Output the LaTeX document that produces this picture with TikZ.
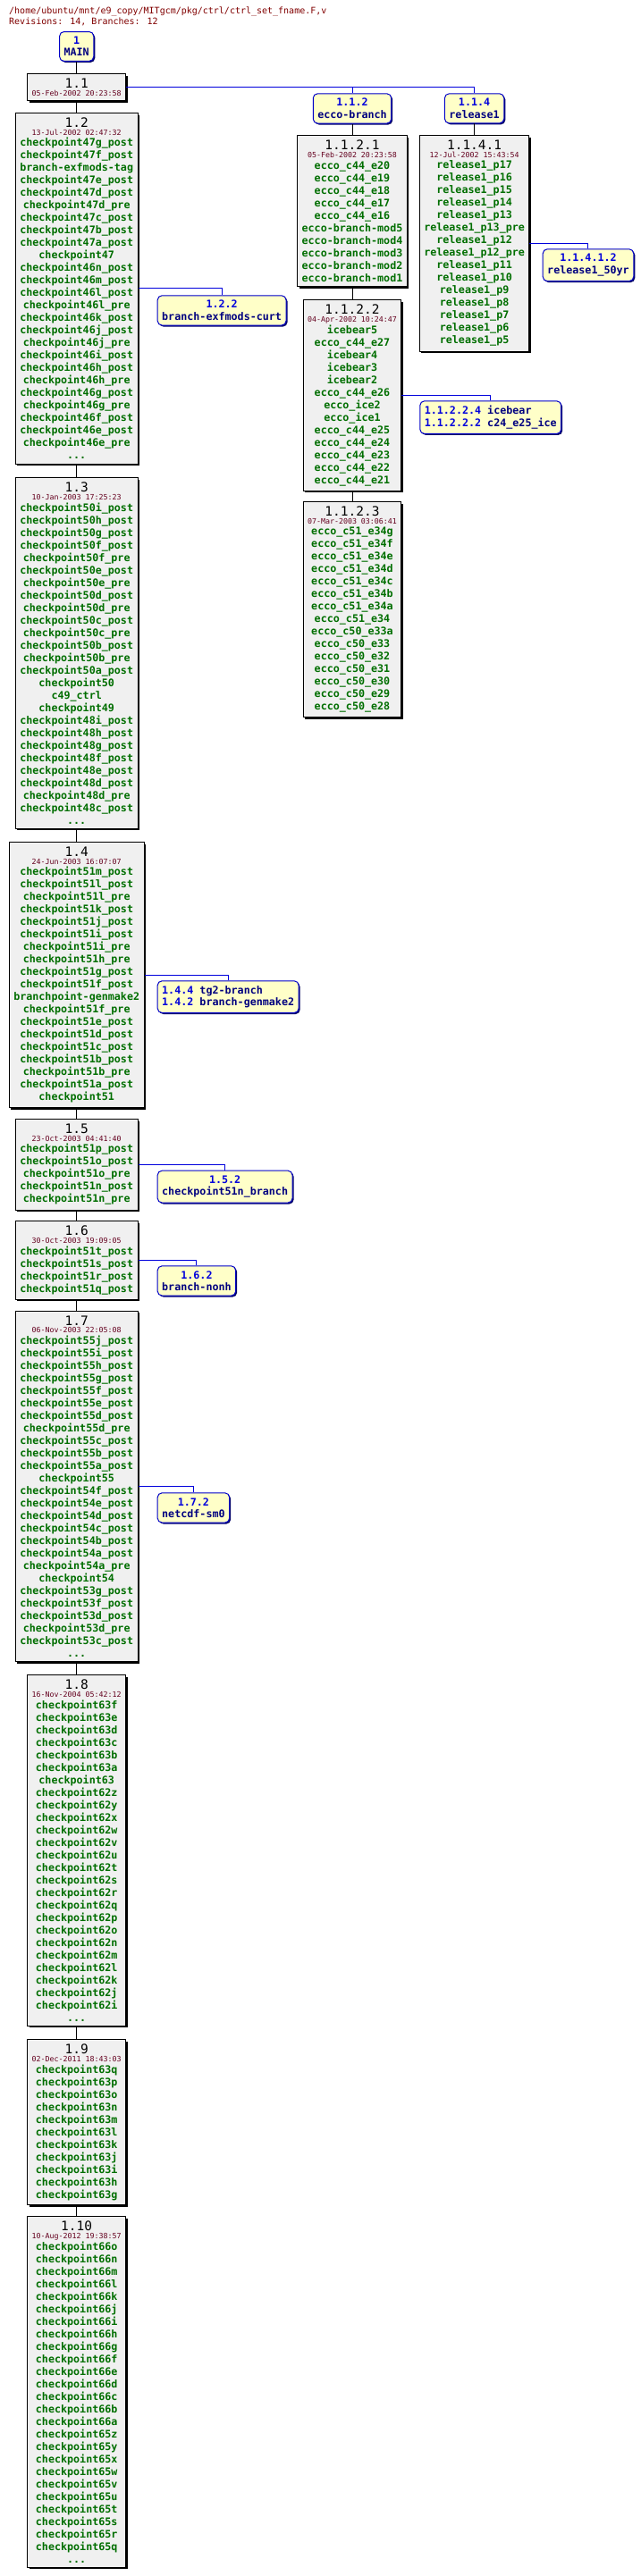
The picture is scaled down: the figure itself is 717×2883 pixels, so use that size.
\documentclass[tikz,border=0pt]{standalone}
\usepackage{fontspec}
\newfontfamily\cvsmono{DejaVu Sans Mono}
\usetikzlibrary{shadows}
\definecolor{revfill}{RGB}{240,240,240}
\definecolor{tagfill}{RGB}{255,255,200}
\definecolor{tagedge}{RGB}{0,0,200}
\definecolor{tagshade}{RGB}{0,0,100}
\definecolor{symcol}{RGB}{0,110,0}
\definecolor{datecol}{RGB}{100,0,30}
\definecolor{hdrcol}{RGB}{128,0,0}
\definecolor{brnumcol}{RGB}{0,0,220}
\definecolor{brnamecol}{RGB}{0,0,128}
\definecolor{brlinecol}{RGB}{0,0,220}
\newcommand\revnum[1]{{\fontsize{14.5}{17}\selectfont\mdseries\color{black}#1}}
\newcommand\revdate[1]{{\fontsize{8.3}{10}\selectfont\mdseries\color{datecol}#1}}
\newcommand\bnum[1]{{\color{brnumcol}#1}}
\begin{document}
\begin{tikzpicture}[x=1pt,y=-1pt,
  rev/.style={draw=black,fill=revfill,line width=1pt,
    general shadow={fill=black,shadow xshift=2pt,shadow yshift=-2pt},
    align=center,anchor=north,inner xsep=5pt,inner ysep=5.3pt,
    font=\cvsmono\bfseries\fontsize{11.7}{14}\selectfont,text=symcol},
  tagbox/.style={draw=tagedge,fill=tagfill,line width=1pt,rounded corners=5pt,
    general shadow={fill=tagshade,shadow xshift=1.5pt,shadow yshift=-1.5pt},
    align=center,anchor=north,inner xsep=5pt,inner ysep=5.5pt,
    font=\cvsmono\bfseries\fontsize{11.7}{13.4}\selectfont,text=brnamecol},
  sidetag/.style={tagbox,anchor=north west},
  mtag/.style={tagbox,align=left,anchor=north west},
  hdr/.style={anchor=base west,inner sep=0pt,font=\cvsmono\fontsize{10}{12}\selectfont,text=hdrcol},
  trunk/.style={draw=black,line width=1pt},
  branch/.style={draw=brlinecol,line width=1pt}]
\useasboundingbox (0,0) rectangle (717,2883);
\node[hdr] (hdr1) at (10,15.5) {/home/ubuntu/mnt/e9\_copy/MITgcm/pkg/ctrl/ctrl\_set\_fname.F,v};
\node[hdr] (hdr2) at (10,27) {Revisions: 14, Branches: 12};
% main trunk
\node[tagbox] (main) at (85.7,35) {\bnum{1}\\MAIN};
\node[rev] (r11) at (85.7,82.3) {\revnum{1.1}\\[-5.3pt]\revdate{05-Feb-2002 20:23:58}};
\node[rev] (r12) at (85.7,126) {\revnum{1.2}\\[-5.3pt]\revdate{13-Jul-2002 02:47:32}\\[-1.4pt]
checkpoint47g\_post\\checkpoint47f\_post\\branch-exfmods-tag\\checkpoint47e\_post\\checkpoint47d\_post\\
checkpoint47d\_pre\\checkpoint47c\_post\\checkpoint47b\_post\\checkpoint47a\_post\\checkpoint47\\
checkpoint46n\_post\\checkpoint46m\_post\\checkpoint46l\_post\\checkpoint46l\_pre\\checkpoint46k\_post\\
checkpoint46j\_post\\checkpoint46j\_pre\\checkpoint46i\_post\\checkpoint46h\_post\\checkpoint46h\_pre\\
checkpoint46g\_post\\checkpoint46g\_pre\\checkpoint46f\_post\\checkpoint46e\_post\\checkpoint46e\_pre\\...};
\node[rev] (r13) at (85.7,534.3) {\revnum{1.3}\\[-5.3pt]\revdate{10-Jan-2003 17:25:23}\\[-1.4pt]
checkpoint50i\_post\\checkpoint50h\_post\\checkpoint50g\_post\\checkpoint50f\_post\\checkpoint50f\_pre\\
checkpoint50e\_post\\checkpoint50e\_pre\\checkpoint50d\_post\\checkpoint50d\_pre\\checkpoint50c\_post\\
checkpoint50c\_pre\\checkpoint50b\_post\\checkpoint50b\_pre\\checkpoint50a\_post\\checkpoint50\\
c49\_ctrl\\checkpoint49\\checkpoint48i\_post\\checkpoint48h\_post\\checkpoint48g\_post\\
checkpoint48f\_post\\checkpoint48e\_post\\checkpoint48d\_post\\checkpoint48d\_pre\\checkpoint48c\_post\\...};
\node[rev] (r14) at (85.7,942.3) {\revnum{1.4}\\[-5.3pt]\revdate{24-Jun-2003 16:07:07}\\[-1.4pt]
checkpoint51m\_post\\checkpoint51l\_post\\checkpoint51l\_pre\\checkpoint51k\_post\\checkpoint51j\_post\\
checkpoint51i\_post\\checkpoint51i\_pre\\checkpoint51h\_pre\\checkpoint51g\_post\\checkpoint51f\_post\\
branchpoint-genmake2\\checkpoint51f\_pre\\checkpoint51e\_post\\checkpoint51d\_post\\checkpoint51c\_post\\
checkpoint51b\_post\\checkpoint51b\_pre\\checkpoint51a\_post\\checkpoint51};
\node[rev] (r15) at (85.7,1252.3) {\revnum{1.5}\\[-5.3pt]\revdate{23-Oct-2003 04:41:40}\\[-1.4pt]
checkpoint51p\_post\\checkpoint51o\_post\\checkpoint51o\_pre\\checkpoint51n\_post\\checkpoint51n\_pre};
\node[rev] (r16) at (85.7,1366.3) {\revnum{1.6}\\[-5.3pt]\revdate{30-Oct-2003 19:09:05}\\[-1.4pt]
checkpoint51t\_post\\checkpoint51s\_post\\checkpoint51r\_post\\checkpoint51q\_post};
\node[rev] (r17) at (85.7,1466.7) {\revnum{1.7}\\[-5.3pt]\revdate{06-Nov-2003 22:05:08}\\[-1.4pt]
checkpoint55j\_post\\checkpoint55i\_post\\checkpoint55h\_post\\checkpoint55g\_post\\checkpoint55f\_post\\
checkpoint55e\_post\\checkpoint55d\_post\\checkpoint55d\_pre\\checkpoint55c\_post\\checkpoint55b\_post\\
checkpoint55a\_post\\checkpoint55\\checkpoint54f\_post\\checkpoint54e\_post\\checkpoint54d\_post\\
checkpoint54c\_post\\checkpoint54b\_post\\checkpoint54a\_post\\checkpoint54a\_pre\\checkpoint54\\
checkpoint53g\_post\\checkpoint53f\_post\\checkpoint53d\_post\\checkpoint53d\_pre\\checkpoint53c\_post\\...};
\node[rev] (r18) at (85.7,1874.3) {\revnum{1.8}\\[-5.3pt]\revdate{16-Nov-2004 05:42:12}\\[-1.4pt]
checkpoint63f\\checkpoint63e\\checkpoint63d\\checkpoint63c\\checkpoint63b\\checkpoint63a\\checkpoint63\\
checkpoint62z\\checkpoint62y\\checkpoint62x\\checkpoint62w\\checkpoint62v\\checkpoint62u\\checkpoint62t\\
checkpoint62s\\checkpoint62r\\checkpoint62q\\checkpoint62p\\checkpoint62o\\checkpoint62n\\checkpoint62m\\
checkpoint62l\\checkpoint62k\\checkpoint62j\\checkpoint62i\\...};
\node[rev] (r19) at (85.7,2282.3) {\revnum{1.9}\\[-5.3pt]\revdate{02-Dec-2011 18:43:03}\\[-1.4pt]
checkpoint63q\\checkpoint63p\\checkpoint63o\\checkpoint63n\\checkpoint63m\\checkpoint63l\\
checkpoint63k\\checkpoint63j\\checkpoint63i\\checkpoint63h\\checkpoint63g};
\node[rev] (r110) at (85.7,2480.3) {\revnum{1.10}\\[-5.3pt]\revdate{10-Aug-2012 19:38:57}\\[-1.4pt]
checkpoint66o\\checkpoint66n\\checkpoint66m\\checkpoint66l\\checkpoint66k\\checkpoint66j\\checkpoint66i\\
checkpoint66h\\checkpoint66g\\checkpoint66f\\checkpoint66e\\checkpoint66d\\checkpoint66c\\checkpoint66b\\
checkpoint66a\\checkpoint65z\\checkpoint65y\\checkpoint65x\\checkpoint65w\\checkpoint65v\\checkpoint65u\\
checkpoint65t\\checkpoint65s\\checkpoint65r\\checkpoint65q\\...};
% ecco-branch and release1
\node[tagbox] (b112) at (394,104.3) {\bnum{1.1.2}\\ecco-branch};
\node[tagbox] (b114) at (530.6,104.3) {\bnum{1.1.4}\\release1};
\node[rev] (r1121) at (394,151.3) {\revnum{1.1.2.1}\\[-5.3pt]\revdate{05-Feb-2002 20:23:58}\\[-1.4pt]
ecco\_c44\_e20\\ecco\_c44\_e19\\ecco\_c44\_e18\\ecco\_c44\_e17\\ecco\_c44\_e16\\
ecco-branch-mod5\\ecco-branch-mod4\\ecco-branch-mod3\\ecco-branch-mod2\\ecco-branch-mod1};
\node[rev] (r1122) at (394,335.3) {\revnum{1.1.2.2}\\[-5.3pt]\revdate{04-Apr-2002 10:24:47}\\[-1.4pt]
icebear5\\ecco\_c44\_e27\\icebear4\\icebear3\\icebear2\\ecco\_c44\_e26\\ecco\_ice2\\ecco\_ice1\\
ecco\_c44\_e25\\ecco\_c44\_e24\\ecco\_c44\_e23\\ecco\_c44\_e22\\ecco\_c44\_e21};
\node[rev] (r1123) at (394,561) {\revnum{1.1.2.3}\\[-5.3pt]\revdate{07-Mar-2003 03:06:41}\\[-1.4pt]
ecco\_c51\_e34g\\ecco\_c51\_e34f\\ecco\_c51\_e34e\\ecco\_c51\_e34d\\ecco\_c51\_e34c\\
ecco\_c51\_e34b\\ecco\_c51\_e34a\\ecco\_c51\_e34\\ecco\_c50\_e33a\\ecco\_c50\_e33\\
ecco\_c50\_e32\\ecco\_c50\_e31\\ecco\_c50\_e30\\ecco\_c50\_e29\\ecco\_c50\_e28};
\node[rev] (r1141) at (530.6,151.3) {\revnum{1.1.4.1}\\[-5.3pt]\revdate{12-Jul-2002 15:43:54}\\[-1.4pt]
release1\_p17\\release1\_p16\\release1\_p15\\release1\_p14\\release1\_p13\\release1\_p13\_pre\\
release1\_p12\\release1\_p12\_pre\\release1\_p11\\release1\_p10\\release1\_p9\\release1\_p8\\
release1\_p7\\release1\_p6\\release1\_p5};
% side branches
\node[sidetag] (b11412) at (606.7,278.3) {\bnum{1.1.4.1.2}\\release1\_50yr};
\node[mtag] (b11224) at (469.3,448.3) {\bnum{1.1.2.2.4} icebear\\\bnum{1.1.2.2.2} c24\_e25\_ice};
\node[sidetag] (b122) at (175.7,330.3) {\bnum{1.2.2}\\branch-exfmods-curt};
\node[mtag] (b144) at (175.7,1097.3) {\bnum{1.4.4} tg2-branch\\\bnum{1.4.2} branch-genmake2};
\node[sidetag] (b152) at (175.7,1309.7) {\bnum{1.5.2}\\checkpoint51n\_branch};
\node[sidetag] (b162) at (175.7,1416.3) {\bnum{1.6.2}\\branch-nonh};
\node[sidetag] (b172) at (175.7,1670.3) {\bnum{1.7.2}\\netcdf-sm0};
\foreach \u/\v in {main/r11,r11/r12,r12/r13,r13/r14,r14/r15,r15/r16,r16/r17,r17/r18,r18/r19,r19/r110,
  b112/r1121,r1121/r1122,r1122/r1123,b114/r1141}
  \draw[trunk] (\u) -- (\v);
\foreach \u/\v in {r11/b112,r11/b114,r12/b122,r14/b144,r15/b152,r16/b162,r17/b172,r1122/b11224,r1141/b11412}
  \draw[branch] (\u.east) -| (\v.north);
\end{tikzpicture}
\end{document}
